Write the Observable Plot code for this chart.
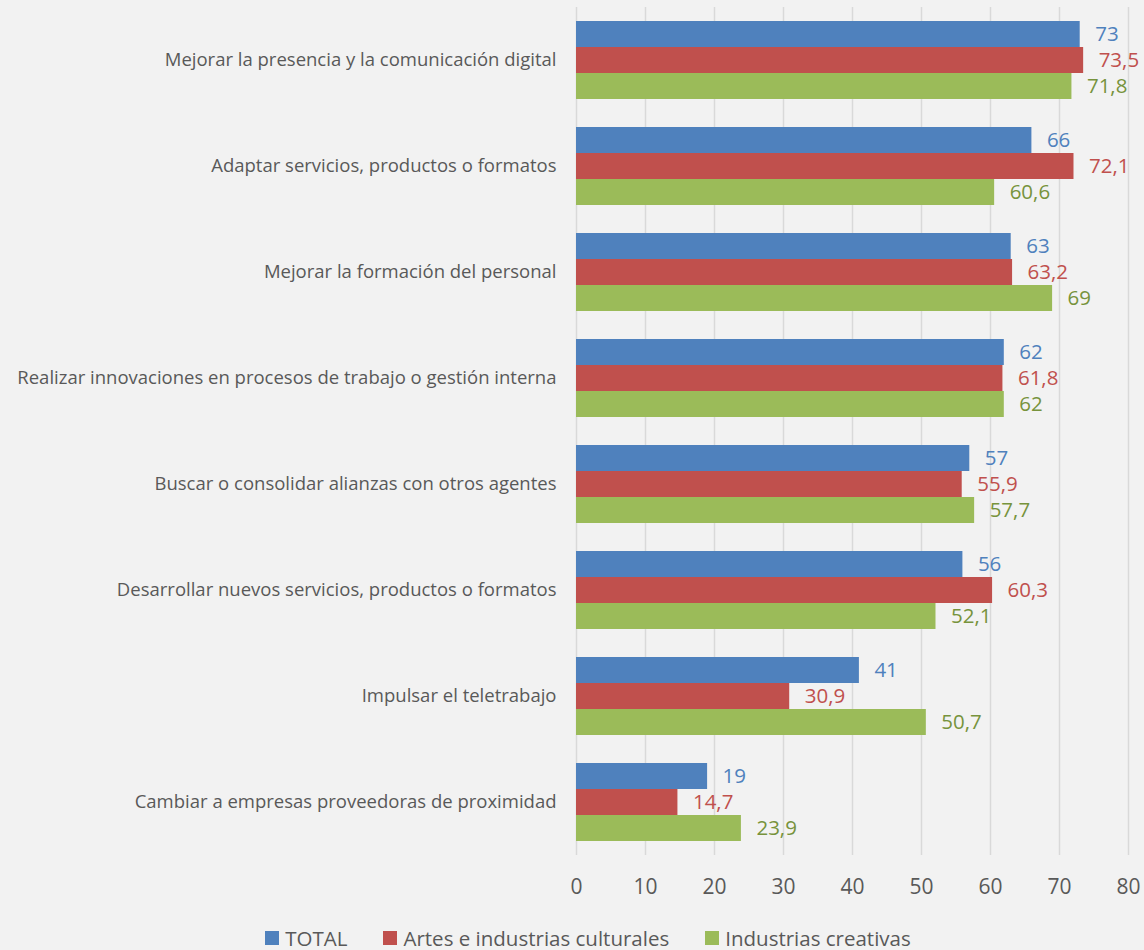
<!DOCTYPE html>
<html>
<head>
<meta charset="utf-8">
<script src="https://cdn.jsdelivr.net/npm/d3@7"></script>
<script src="https://cdn.jsdelivr.net/npm/@observablehq/plot@0.6"></script>
<style>
  body { margin: 0; background: #f2f2f2; font-family: "Open Sans", sans-serif; overflow: hidden; }
  #chart svg { display: block; }
  .legend { display: flex; justify-content: center; align-items: center; gap: 36px; padding-left: 32px; margin-top: 22px; font-size: 20.5px; line-height: 22px; height: 22px; color: #595959; }
  .legend span.item { display: flex; align-items: center; gap: 6px; }
  .legend span.sw { width: 14px; height: 14px; display: inline-block; }
</style>
</head>
<body>
<div id="chart"></div>
<div class="legend" id="legend"></div>
<script>
const categories = [
  "Mejorar la presencia y la comunicación digital",
  "Adaptar servicios, productos o formatos",
  "Mejorar la formación del personal",
  "Realizar innovaciones en procesos de trabajo o gestión interna",
  "Buscar o consolidar alianzas con otros agentes",
  "Desarrollar nuevos servicios, productos o formatos",
  "Impulsar el teletrabajo",
  "Cambiar a empresas proveedoras de proximidad"
];
const series = ["TOTAL", "Artes e industrias culturales", "Industrias creativas"];
const total     = [73, 66, 63, 62, 57, 56, 41, 19];
const artes     = [73.5, 72.1, 63.2, 61.8, 55.9, 60.3, 30.9, 14.7];
const creativas = [71.8, 60.6, 69, 62, 57.7, 52.1, 50.7, 23.9];
const xTicks = [0, 10, 20, 30, 40, 50, 60, 70, 80];
const barColors = ["#4f81bd", "#c0504d", "#9bbb59"];
const labelColors = ["#4f81bd", "#c0504d", "#77933c"];

const seriesValues = [total, artes, creativas];
const data = categories.flatMap((c, i) =>
  series.map((s, j) => ({category: c, series: s, value: seriesValues[j][i]}))
);
const fmt = v => String(v).replace(".", ",");

const chart = Plot.plot({
  width: 1144,
  height: 905,
  marginTop: 7,
  marginBottom: 50,
  marginLeft: 576,
  marginRight: 16,
  style: {background: "#f2f2f2", fontFamily: "Open Sans, sans-serif", color: "#595959"},
  x: {domain: [0, 80], axis: null},
  fy: {domain: categories, padding: 0, axis: null},
  y: {domain: series, paddingInner: 0, paddingOuter: 0.513, axis: null},
  color: {domain: series, range: barColors},
  marks: [
    Plot.gridX(xTicks, {stroke: "#d9d9d9", strokeOpacity: 1, strokeWidth: 1.5}),
    Plot.barX(data, {fy: "category", y: "series", x: "value", fill: "series"}),
    ...series.map((s, j) => Plot.text(data.filter(d => d.series === s), {
      fy: "category", y: "series", x: "value", text: d => fmt(d.value),
      fill: labelColors[j], textAnchor: "start", dx: 15, fontSize: 20.5
    })),
    Plot.axisX(xTicks, {tickSize: 0, tickPadding: 24, fontSize: 21, label: null, fill: "#595959"}),
    Plot.axisFy({anchor: "left", tickSize: 0, tickPadding: 20, fontSize: 18.5, label: null, fill: "#595959"})
  ]
});
document.getElementById("chart").appendChild(chart);

const legend = document.getElementById("legend");
series.forEach((s, j) => {
  const item = document.createElement("span");
  item.className = "item";
  item.innerHTML = `<span class="sw" style="background:${barColors[j]}"></span><span>${s}</span>`;
  legend.appendChild(item);
});
</script>
</body>
</html>
